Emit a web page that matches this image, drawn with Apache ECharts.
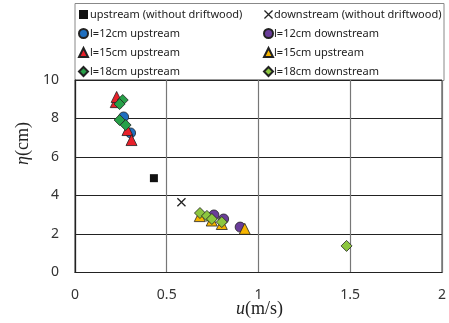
<!DOCTYPE html>
<html><head><meta charset="utf-8">
<script src="https://cdn.jsdelivr.net/npm/echarts@6/dist/echarts.min.js"></script>
<style>html,body{margin:0;padding:0;background:#fff}#c{width:449px;height:323px}</style>
</head><body><div id="c"></div>
<script>
const xTicks = [0, 0.5, 1, 1.5, 2];
const yTicks = [0, 2, 4, 6, 8, 10];

const upNoDriftU = [0.43];
const upNoDriftEta = [4.9];
const downNoDriftU = [0.58];
const downNoDriftEta = [3.65];
const up12U = [0.265, 0.303];
const up12Eta = [8.08, 7.25];
const down12U = [0.757, 0.81, 0.90];
const down12Eta = [2.99, 2.78, 2.36];
const up15U = [0.222, 0.227, 0.286, 0.308];
const up15Eta = [8.85, 9.12, 7.4, 6.88];
const down15U = [0.68, 0.745, 0.80, 0.925];
const down15Eta = [2.93, 2.7, 2.52, 2.27];
const up18U = [0.26, 0.243, 0.243, 0.276];
const up18Eta = [8.96, 8.75, 7.92, 7.66];
const down18U = [0.681, 0.719, 0.746, 0.80, 1.48];
const down18Eta = [3.09, 2.94, 2.78, 2.62, 1.38];

const names = [
  'upstream (without driftwood)', 'downstream (without driftwood)',
  'l=12cm upstream', 'l=12cm downstream',
  'l=15cm upstream', 'l=15cm upstream ',
  'l=18cm upstream', 'l=18cm downstream'
];
const pair = (xs, ys) => xs.map((x, i) => [x, ys[i]]);
const crossPath = 'path://M0,1L1,0L5,4L9,0L10,1L6,5L10,9L9,10L5,6L1,10L0,9L4,5Z';

function sc(name, data, symbol, size, color, bw) {
  return {
    type: 'scatter', name: name, data: data, symbol: symbol, symbolSize: size,
    itemStyle: { color: color, borderColor: '#222', borderWidth: bw, opacity: 1 },
    emphasis: { disabled: true }, animation: false
  };
}

const chart = echarts.init(document.getElementById('c'), null, { renderer: 'canvas' });
const tickFont = 'Noto Sans';
chart.setOption({
  animation: false,
  graphic: [
    { type: 'rect', z: -1, shape: { x: 75, y: 3.5, width: 369, height: 77 },
      style: { fill: '#fff', stroke: '#888', lineWidth: 1 } },
    { type: 'text', left: 14, top: 122, rotation: Math.PI / 2, origin: [0, 0],
      style: { text: '{i|η}(cm)', rich: { i: { fontStyle: 'italic', fontFamily: 'Liberation Serif', fontSize: 18, fill: '#222' } },
        font: '18px "Liberation Serif"', fill: '#222' } },
    { type: 'text', left: 236, top: 300,
      style: { text: '{i|u}(m/s)', rich: { i: { fontStyle: 'italic', fontFamily: 'Liberation Serif', fontSize: 18, fill: '#222' } },
        font: '18px "Liberation Serif"', fill: '#222' } }
  ],
  legend: [
    { orient: 'vertical', left: 78, top: 8, itemWidth: 9, itemHeight: 9, itemGap: 6, padding: 0,
      selectedMode: false,
      textStyle: { fontFamily: 'Noto Sans', fontSize: 11, color: '#222', padding: [0, 0, 0, -3], lineHeight: 13 },
      data: [names[0], names[2], names[4], names[6]] },
    { orient: 'vertical', left: 263, top: 8, itemWidth: 9, itemHeight: 9, itemGap: 6, padding: 0,
      selectedMode: false,
      textStyle: { fontFamily: 'Noto Sans', fontSize: 11, color: '#222', padding: [0, 0, 0, -4], lineHeight: 13 },
      data: [names[1], names[3], names[5], names[7]] }
  ],
  grid: { left: 75, right: 4, top: 80, bottom: 50.5, show: true, borderColor: '#333', borderWidth: 1, containLabel: false },
  xAxis: {
    type: 'value', min: xTicks[0], max: xTicks[xTicks.length - 1], interval: 0.5,
    axisLine: { show: true, lineStyle: { color: '#222', width: 1.2 } },
    axisTick: { show: false },
    axisLabel: { margin: 16, fontFamily: tickFont, fontSize: 14, color: '#333',
      formatter: v => String(v) },
    splitLine: { show: true, lineStyle: { color: '#777', width: 1.2 } }
  },
  yAxis: {
    type: 'value', min: yTicks[0], max: yTicks[yTicks.length - 1], interval: 2,
    axisLine: { show: true, lineStyle: { color: '#222', width: 1.2 } },
    axisTick: { show: false },
    axisLabel: { margin: 16, fontFamily: tickFont, fontSize: 14, color: '#333' },
    splitLine: { show: true, lineStyle: { color: '#222', width: 1 } }
  },
  series: [
    sc(names[0], pair(upNoDriftU, upNoDriftEta), 'rect', 8, '#111', 0),
    sc(names[1], pair(downNoDriftU, downNoDriftEta), crossPath, 9, '#222', 0),
    sc(names[2], pair(up12U, up12Eta), 'circle', 10, '#1f6fbf', 0.8),
    sc(names[3], pair(down12U, down12Eta), 'circle', 10, '#6a3d9a', 0.8),
    sc(names[4], pair(up15U, up15Eta), 'triangle', 11, '#e8202a', 0.8),
    sc(names[5], pair(down15U, down15Eta), 'triangle', 11, '#f7b500', 0.8),
    sc(names[6], pair(up18U, up18Eta), 'diamond', 11, '#27a048', 0.8),
    sc(names[7], pair(down18U, down18Eta), 'diamond', 11, '#8cc63f', 0.8)
  ]
});
</script></body></html>
